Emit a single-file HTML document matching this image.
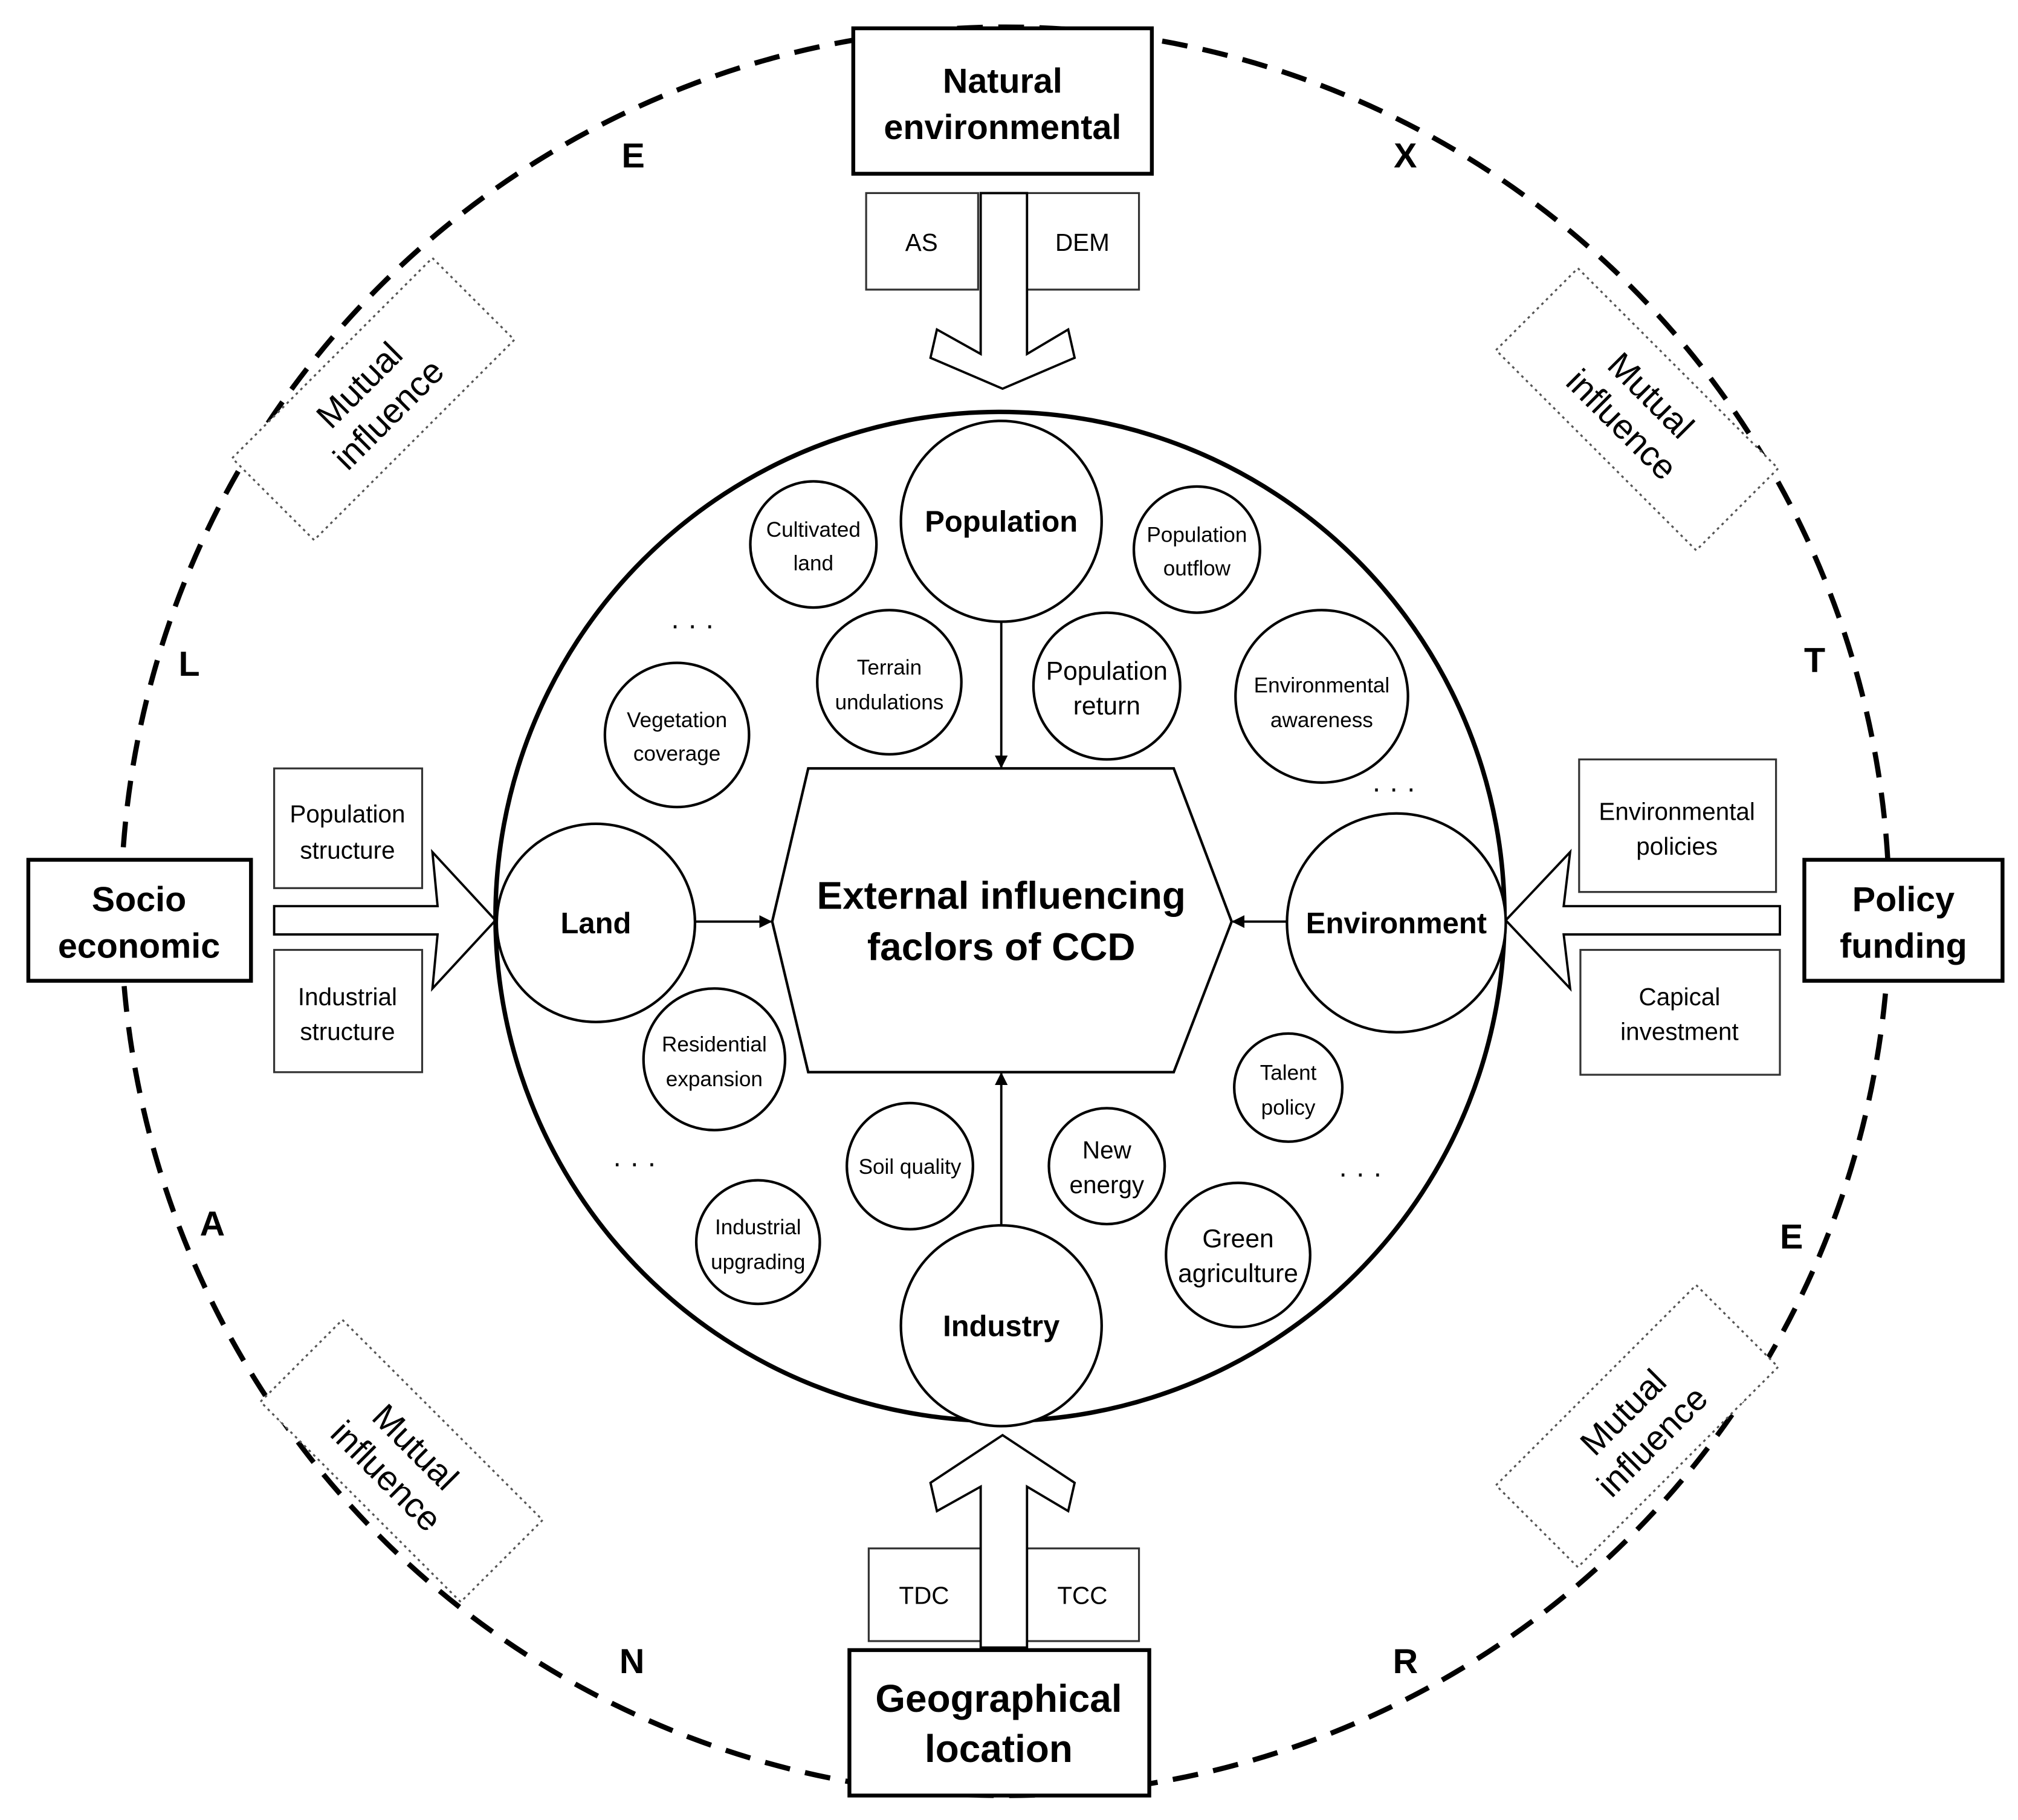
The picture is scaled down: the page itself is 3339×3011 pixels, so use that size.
<!DOCTYPE html>
<html><head><meta charset="utf-8"><style>
html,body{margin:0;padding:0;background:#fff;}
svg{display:block;}
text{font-family:"Liberation Sans",Arial,sans-serif;fill:#000;text-anchor:middle;}
.b{font-weight:bold;}
</style></head><body>
<svg width="3339" height="3011" viewBox="0 0 1568 1414" xmlns="http://www.w3.org/2000/svg">
<rect width="1568" height="1414" fill="#fff"/>
<defs><marker id="ah" markerWidth="10" markerHeight="10" refX="9" refY="5" orient="auto" markerUnits="userSpaceOnUse"><path d="M0,0 L10,5 L0,10 z" fill="#000"/></marker></defs>
<circle cx="781" cy="708" r="687" fill="none" stroke="#000" stroke-width="4" stroke-dasharray="20 12"/>
<g transform="translate(290,310) rotate(-45)"><rect x="-110" y="-45" width="220" height="90" fill="#fff" stroke="#555" stroke-width="1.5" stroke-dasharray="2 3"/><text y="-6" font-size="27">Mutual</text><text y="26" font-size="27">influence</text></g>
<g transform="translate(1272,318) rotate(45)"><rect x="-110" y="-45" width="220" height="90" fill="#fff" stroke="#555" stroke-width="1.5" stroke-dasharray="2 3"/><text y="-6" font-size="27">Mutual</text><text y="26" font-size="27">influence</text></g>
<g transform="translate(312,1135) rotate(45)"><rect x="-110" y="-45" width="220" height="90" fill="#fff" stroke="#555" stroke-width="1.5" stroke-dasharray="2 3"/><text y="-6" font-size="27">Mutual</text><text y="26" font-size="27">influence</text></g>
<g transform="translate(1272,1108) rotate(-45)"><rect x="-110" y="-45" width="220" height="90" fill="#fff" stroke="#555" stroke-width="1.5" stroke-dasharray="2 3"/><text y="-6" font-size="27">Mutual</text><text y="26" font-size="27">influence</text></g>
<g font-size="27">
<text x="492" y="130" class="b">E</text><text x="1092" y="130" class="b">X</text>
<text x="147" y="525" class="b">L</text><text x="1410" y="522" class="b">T</text>
<text x="165" y="960" class="b">A</text><text x="1392" y="970" class="b">E</text>
<text x="491" y="1300" class="b">N</text><text x="1092" y="1300" class="b">R</text>
</g>
<rect x="663" y="22" width="232" height="113" fill="#fff" stroke="#000" stroke-width="3"/>
<text x="779" y="72" font-size="27" class="b">Natural</text><text x="779" y="108" font-size="27" class="b">environmental</text>
<rect x="660" y="1282" width="233" height="113" fill="#fff" stroke="#000" stroke-width="3"/>
<text x="776" y="1330" font-size="30" class="b">Geographical</text><text x="776" y="1369" font-size="30" class="b">location</text>
<rect x="22" y="668" width="173" height="94" fill="#fff" stroke="#000" stroke-width="3"/>
<text x="108" y="708" font-size="27" class="b">Socio</text><text x="108" y="744" font-size="27" class="b">economic</text>
<rect x="1402" y="668" width="154" height="94" fill="#fff" stroke="#000" stroke-width="3"/>
<text x="1479" y="708" font-size="27" class="b">Policy</text><text x="1479" y="744" font-size="27" class="b">funding</text>
<g fill="#fff" stroke="#333" stroke-width="1.5">
<rect x="673" y="150" width="87" height="75"/><rect x="798" y="150" width="87" height="75"/>
<rect x="675" y="1203" width="87" height="72"/><rect x="798" y="1203" width="87" height="72"/>
<rect x="213" y="597" width="115" height="93"/><rect x="213" y="738" width="115" height="95"/>
<rect x="1227" y="590" width="153" height="103"/><rect x="1228" y="738" width="155" height="97"/>
</g>
<g font-size="19">
<text x="716" y="195">AS</text><text x="841" y="195">DEM</text>
<text x="718" y="1246">TDC</text><text x="841" y="1246">TCC</text>
<text x="270" y="639">Population</text><text x="270" y="667">structure</text>
<text x="270" y="781">Industrial</text><text x="270" y="808">structure</text>
<text x="1303" y="637">Environmental</text><text x="1303" y="664">policies</text>
<text x="1305" y="781">Capical</text><text x="1305" y="808">investment</text>
</g>
<g fill="#fff" stroke="#000" stroke-width="1.8">
<polygon points="762,150 798,150 798,275 830,256 835,278 779,302 723,278 728,256 762,275"/>
<polygon points="762,1280 798,1280 798,1155 830,1174 835,1152 779,1115 723,1152 728,1174 762,1155"/>
<polygon points="213,704 340,704 336,662 385,715 336,768 340,726 213,726"/>
<polygon points="1383,704 1215,704 1220,662 1170,715 1220,768 1215,726 1383,726"/>
</g>
<circle cx="777" cy="712" r="392" fill="none" stroke="#000" stroke-width="3.5"/>
<polygon points="628,597 912,597 957,716 912,833 628,833 600,716" fill="#fff" stroke="#000" stroke-width="2"/>
<text x="778" y="706" font-size="30" class="b">External influencing</text>
<text x="778" y="746" font-size="30" class="b">faclors of CCD</text>
<g stroke="#000" stroke-width="1.8">
<line x1="778" y1="483" x2="778" y2="596" marker-end="url(#ah)"/>
<line x1="778" y1="952" x2="778" y2="834" marker-end="url(#ah)"/>
<line x1="540" y1="716" x2="599" y2="716" marker-end="url(#ah)"/>
<line x1="1000" y1="716" x2="958" y2="716" marker-end="url(#ah)"/>
</g>
<g fill="#fff" stroke="#000" stroke-width="2">
<circle cx="778" cy="405" r="78"/><circle cx="463" cy="717" r="77"/><circle cx="1085" cy="717" r="85"/><circle cx="778" cy="1030" r="78"/>
<circle cx="632" cy="423" r="49"/><circle cx="930" cy="427" r="49"/><circle cx="691" cy="530" r="56"/><circle cx="860" cy="533" r="57"/>
<circle cx="1027" cy="541" r="67"/><circle cx="526" cy="571" r="56"/><circle cx="555" cy="823" r="55"/><circle cx="1001" cy="845" r="42"/>
<circle cx="707" cy="906" r="49"/><circle cx="860" cy="906" r="45"/><circle cx="589" cy="965" r="48"/><circle cx="962" cy="975" r="56"/>
</g>
<g font-size="23">
<text x="778" y="413" class="b">Population</text><text x="463" y="725" class="b">Land</text>
<text x="1085" y="725" class="b">Environment</text><text x="778" y="1038" class="b">Industry</text>
</g>
<g font-size="16.5">
<text x="632" y="417">Cultivated</text><text x="632" y="443">land</text>
<text x="930" y="421">Population</text><text x="930" y="447">outflow</text>
<text x="691" y="524">Terrain</text><text x="691" y="551">undulations</text>
<text x="860" y="528" font-size="20">Population</text><text x="860" y="555" font-size="20">return</text>
<text x="1027" y="538">Environmental</text><text x="1027" y="565">awareness</text>
<text x="526" y="565">Vegetation</text><text x="526" y="591">coverage</text>
<text x="555" y="817">Residential</text><text x="555" y="844">expansion</text>
<text x="1001" y="839">Talent</text><text x="1001" y="866">policy</text>
<text x="707" y="912">Soil quality</text>
<text x="860" y="900" font-size="19">New</text><text x="860" y="927" font-size="19">energy</text>
<text x="589" y="959">Industrial</text><text x="589" y="986">upgrading</text>
<text x="962" y="969" font-size="20">Green</text><text x="962" y="996" font-size="20">agriculture</text>
</g>
<g font-size="22"><text x="538" y="493">· · ·</text><text x="493" y="911">· · ·</text><text x="1083" y="620">· · ·</text><text x="1057" y="919">· · ·</text></g>
</svg>
</body></html>
